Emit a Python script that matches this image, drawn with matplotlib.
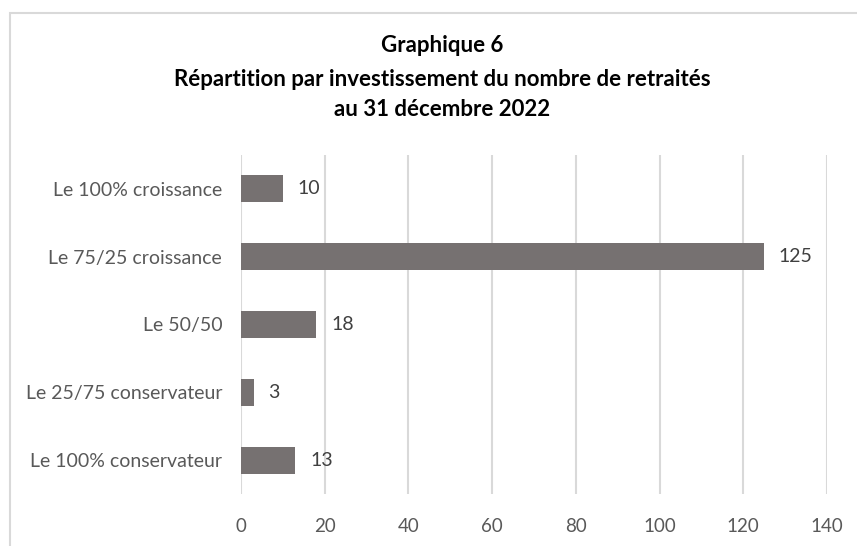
import matplotlib.pyplot as plt
from matplotlib.patches import Rectangle

# ==============================
# Data
# ==============================
categories = ["Le 100% croissance", "Le 75/25 croissance", "Le 50/50",
              "Le 25/75 conservateur", "Le 100% conservateur"]
values = [10, 125, 18, 3, 13]
xticks = [0, 20, 40, 60, 80, 100, 120, 140]

plt.rcParams["font.family"] = ["Lato", "DejaVu Sans"]

fig = plt.figure(figsize=(8.57, 5.46), dpi=100)
ax = fig.add_axes([241 / 857, 1 - 494 / 546, (827 - 241) / 857, (494 - 155) / 546])

# frame around chart (only top/left visible)
fig.patches.append(Rectangle((10 / 857, -0.1), 1.2, 1 - 13 / 546 + 0.1,
                             transform=fig.transFigure, fill=False,
                             edgecolor="#d9d9d9", linewidth=1.5))

y = list(range(len(categories)))
ax.barh(y, values, height=0.4, color="#767171", zorder=3)
for yi, v in zip(y, values):
    ax.text(v + 3.5, yi, str(v), va="center", ha="left",
            fontsize=14, color="#404040")

ax.set_ylim(len(categories) - 0.5, -0.5)
ax.set_xlim(0, 140)
ax.set_xticks(xticks)
ax.set_yticks(y)
ax.set_yticklabels(categories)
ax.tick_params(axis="both", length=0, labelcolor="#595959")
ax.tick_params(axis="y", pad=13.5, labelsize=14)
ax.tick_params(axis="x", pad=17, labelsize=13.5)
ax.grid(axis="x", color="#d9d9d9", linewidth=1.5, zorder=0)
for s in ax.spines.values():
    s.set_visible(False)

tx = 442 / 857
fig.text(tx, 1 - 46 / 546, "Graphique 6", ha="center", va="center",
         fontsize=16, fontweight="bold", color="black")
fig.text(tx, 1 - 79 / 546, "Répartition par investissement du nombre de retraités",
         ha="center", va="center", fontsize=16, fontweight="bold", color="black")
fig.text(tx, 1 - 110 / 546, "au 31 décembre 2022", ha="center", va="center",
         fontsize=16, fontweight="bold", color="black")

fig.savefig("out.png", dpi=100)
